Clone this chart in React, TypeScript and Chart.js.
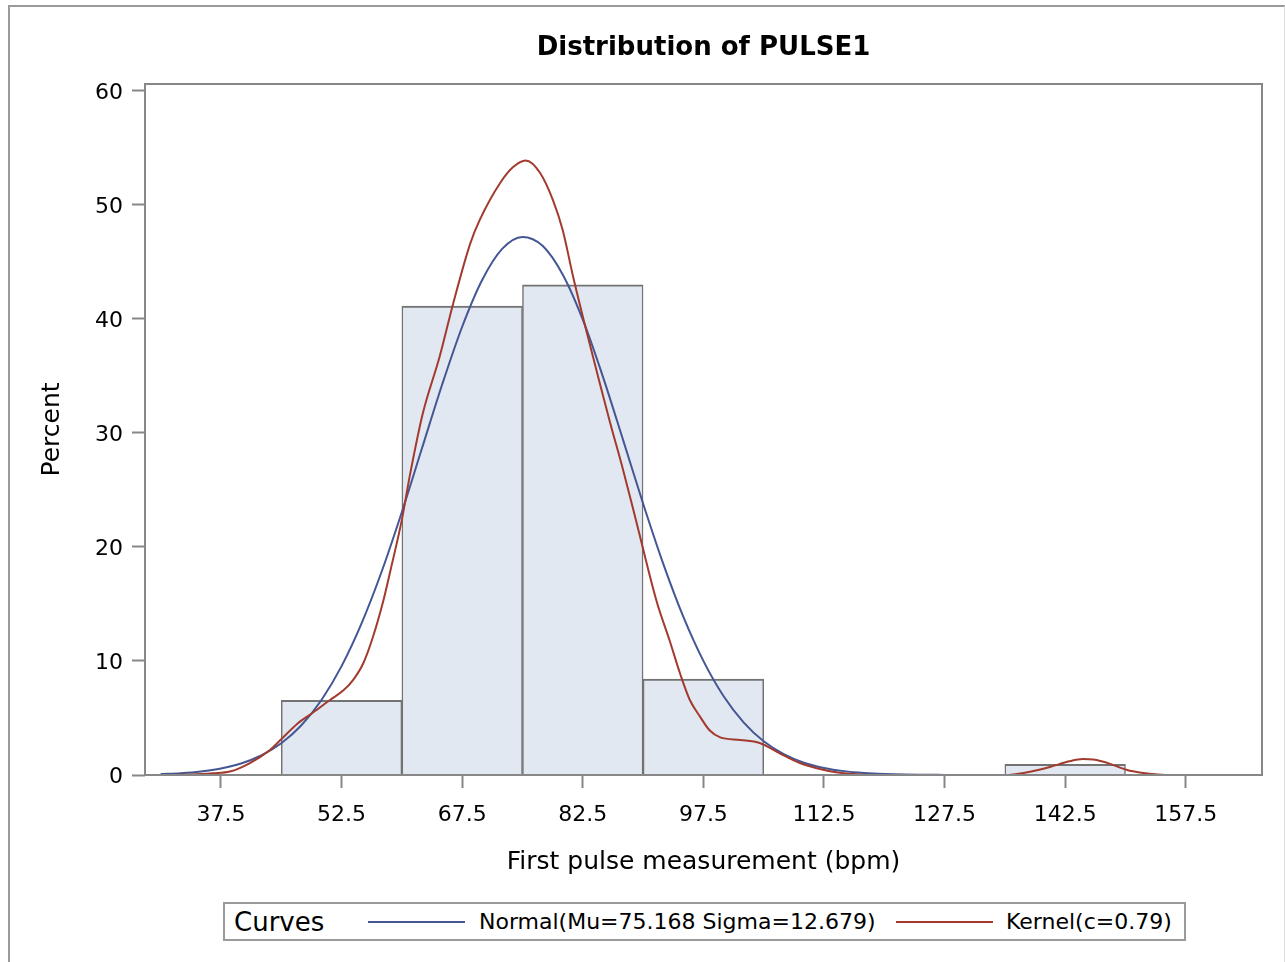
import React, { useEffect, useRef } from "react";
import { Chart, registerables } from "chart.js";

Chart.register(...registerables);

// Histogram bins (percent of observations), bin width 15
const binCenters = [52.5, 67.5, 82.5, 97.5, 142.5];
const binPercents = [6.54, 41.12, 42.99, 8.41, 0.93];

// Axis ticks
const xTickValues = [37.5, 52.5, 67.5, 82.5, 97.5, 112.5, 127.5, 142.5, 157.5];
const yTickStep = 10;

// Normal curve (Mu=75.168, Sigma=12.679)
const normalX = [
  30, 32.5, 35, 37.5, 40, 42.5, 45, 47.5, 50, 52.5, 55, 57.5, 60, 62.5, 65, 67.5, 70, 72.5, 75,
  77.5, 80, 82.5, 85, 87.5, 90, 92.5, 95, 97.5, 100, 102.5, 105, 107.5, 110, 112.5, 115, 117.5,
  120, 122.5, 125, 127.5, 130, 140, 150, 165,
];
const normalY = [
  0.08, 0.16, 0.31, 0.57, 1.01, 1.71, 2.78, 4.36, 6.58, 9.55, 13.32, 17.87, 23.07, 28.65, 34.22,
  39.31, 43.43, 46.16, 47.19, 46.41, 43.89, 39.93, 34.94, 29.41, 23.81, 18.54, 13.89, 10.01, 6.93,
  4.62, 2.96, 1.83, 1.08, 0.62, 0.34, 0.18, 0.09, 0.04, 0.02, 0.01, 0, 0, 0, 0,
];

// Kernel density curve (c=0.79)
const kernelX = [
  30, 32.5, 35, 36.5, 38.6, 41.1, 43.6, 44.8, 47, 49, 51.1, 52.7, 53.9, 55.2, 56.4, 57.7, 58.6,
  60, 61, 62.6, 64.7, 66.4, 68.5, 69.7, 72.2, 73.8, 75.4, 77.2, 78.8, 80, 81.3, 83, 84.6, 85.9,
  87.5, 89.2, 91.7, 93.3, 94.6, 95.8, 97.1, 98.3, 99.6, 102.1, 104.5, 107, 109.5, 111.6, 114, 117,
  120, 135, 137.5, 140.6, 143, 144.7, 146, 148, 150.2, 152, 154, 156, 165,
];
const kernelY = [
  0, 0.02, 0.08, 0.15, 0.3, 1.05, 2.2, 3.0, 4.5, 5.5, 6.6, 7.4, 8.3, 9.8, 12.1, 15.3, 18.0, 22.4,
  26.3, 31.7, 36.7, 41.4, 46.6, 48.7, 51.9, 53.3, 53.9, 52.8, 50.4, 47.8, 43.7, 38.8, 34.4, 30.9,
  26.8, 22.1, 15.2, 11.8, 8.9, 6.6, 5.1, 3.9, 3.3, 3.07, 2.8, 1.9, 1.05, 0.6, 0.25, 0.05, 0, 0, 0.2,
  0.7, 1.2, 1.4, 1.35, 1.0, 0.44, 0.2, 0.05, 0, 0,
];

const titleText = "Distribution of PULSE1";
const xTitle = "First pulse measurement (bpm)";
const yTitle = "Percent";
const legendTitle = "Curves";
const normalLabel = "Normal(Mu=75.168 Sigma=12.679)";
const kernelLabel = "Kernel(c=0.79)";

const FONT = "'DejaVu Sans', sans-serif";
const BLUE = "#445694";
const RED = "#A23A2E";
const GRAY = "#878787";

const framePlugin = {
  id: "frameBox",
  afterDatasetsDraw(chart: any) {
    const { ctx, chartArea: a } = chart;
    ctx.save();
    ctx.strokeStyle = GRAY;
    ctx.lineWidth = 2;
    ctx.strokeRect(a.left, a.top, a.right - a.left, a.bottom - a.top);
    ctx.restore();
  },
};

export default function App() {
  const ref = useRef<HTMLCanvasElement | null>(null);

  useEffect(() => {
    if (!ref.current) return;
    const chart = new Chart(ref.current, {
      type: "line",
      data: {
        datasets: [
          {
            type: "line",
            label: kernelLabel,
            data: kernelX.map((x, i) => ({ x, y: kernelY[i] })),
            borderColor: RED,
            borderWidth: 2,
            pointRadius: 0,
            fill: false,
            cubicInterpolationMode: "monotone",
            order: 1,
          } as any,
          {
            type: "line",
            label: normalLabel,
            data: normalX.map((x, i) => ({ x, y: normalY[i] })),
            borderColor: BLUE,
            borderWidth: 2,
            pointRadius: 0,
            fill: false,
            cubicInterpolationMode: "monotone",
            order: 2,
          } as any,
          {
            type: "bar",
            label: "Histogram",
            data: binCenters.map((x, i) => ({ x, y: binPercents[i] })),
            backgroundColor: "#e1e8f1",
            borderColor: "#737373",
            borderWidth: { top: 2, left: 1.5, right: 1.5, bottom: 0 },
            barPercentage: 1,
            categoryPercentage: 1,
            order: 3,
          } as any,
        ],
      },
      options: {
        animation: false,
        responsive: false,
        events: [],
        layout: { padding: { left: 28, right: 23, top: 0, bottom: 0 } },
        plugins: {
          legend: { display: false },
          tooltip: { enabled: false },
          title: {
            display: true,
            text: titleText,
            fullSize: false,
            color: "#000",
            font: { family: FONT, size: 26, weight: "bold", lineHeight: 1.2 },
            padding: { top: 33, bottom: 19.8 },
          },
        },
        scales: {
          x: {
            type: "linear",
            min: 28.05,
            max: 166.98,
            offset: false,
            afterFit: (scale: any) => {
              scale.height = 187;
            },
            afterBuildTicks: (scale: any) => {
              scale.ticks = xTickValues.map((v) => ({ value: v }));
            },
            grid: {
              offset: false,
              drawOnChartArea: false,
              drawTicks: true,
              tickLength: 13,
              tickWidth: 2,
              tickColor: GRAY,
              color: GRAY,
            },
            border: { display: false },
            ticks: {
              color: "#000",
              font: { family: FONT, size: 22 },
              padding: 14,
              maxRotation: 0,
              autoSkip: false,
              callback: (v: any) => Number(v).toFixed(1),
            },
            title: {
              display: true,
              text: xTitle,
              color: "#000",
              font: { family: FONT, size: 25 },
              padding: { top: 0, bottom: 85 },
            },
          },
          y: {
            type: "linear",
            min: 0,
            max: 60.6,
            afterFit: (scale: any) => {
              scale.width = 117;
            },
            grid: {
              drawOnChartArea: false,
              drawTicks: true,
              tickLength: 13,
              tickWidth: 2,
              tickColor: GRAY,
              color: GRAY,
            },
            border: { display: false },
            ticks: {
              stepSize: yTickStep,
              includeBounds: false,
              color: "#000",
              font: { family: FONT, size: 22 },
              padding: 9,
              labelOffset: 2,
            },
            title: {
              display: true,
              text: yTitle,
              color: "#000",
              font: { family: FONT, size: 25 },
              padding: { top: 9, bottom: 0 },
            },
          },
        },
      },
      plugins: [framePlugin],
    } as any);
    return () => chart.destroy();
  }, []);

  const legendText: React.CSSProperties = {
    position: "absolute",
    top: "50%",
    transform: "translateY(-50%)",
    fontFamily: FONT,
    color: "#000",
    whiteSpace: "nowrap",
    lineHeight: 1,
  };
  const legendLine = (left: number, color: string): React.CSSProperties => ({
    position: "absolute",
    left,
    top: "50%",
    width: 97,
    height: 2,
    marginTop: -1,
    background: color,
  });

  return (
    <div
      style={{
        position: "absolute",
        left: 0,
        top: 0,
        width: 1285,
        height: 962,
        overflow: "hidden",
        background: "#fff",
      }}
    >
      <canvas
        ref={ref}
        width={1285}
        height={962}
        style={{ position: "absolute", left: 0, top: 0, width: 1285, height: 962 }}
      />
      <div
        style={{
          position: "absolute",
          left: 8,
          top: 5,
          width: 1277,
          height: 1000,
          boxSizing: "border-box",
          borderLeft: "2px solid #9a9a9a",
          borderTop: "2px solid #9a9a9a",
          borderRight: "1px solid #dcdcdc",
          pointerEvents: "none",
        }}
      />
      <div
        style={{
          position: "absolute",
          left: 223,
          top: 902,
          width: 963,
          height: 39,
          boxSizing: "border-box",
          border: "2px solid #9a9a9a",
          background: "#fff",
        }}
      >
        <span style={{ ...legendText, left: 9, fontSize: 26 }}>{legendTitle}</span>
        <div style={legendLine(143, BLUE)} />
        <span style={{ ...legendText, left: 254, fontSize: 22 }}>{normalLabel}</span>
        <div style={legendLine(671, RED)} />
        <span style={{ ...legendText, left: 781, fontSize: 22 }}>{kernelLabel}</span>
      </div>
    </div>
  );
}
